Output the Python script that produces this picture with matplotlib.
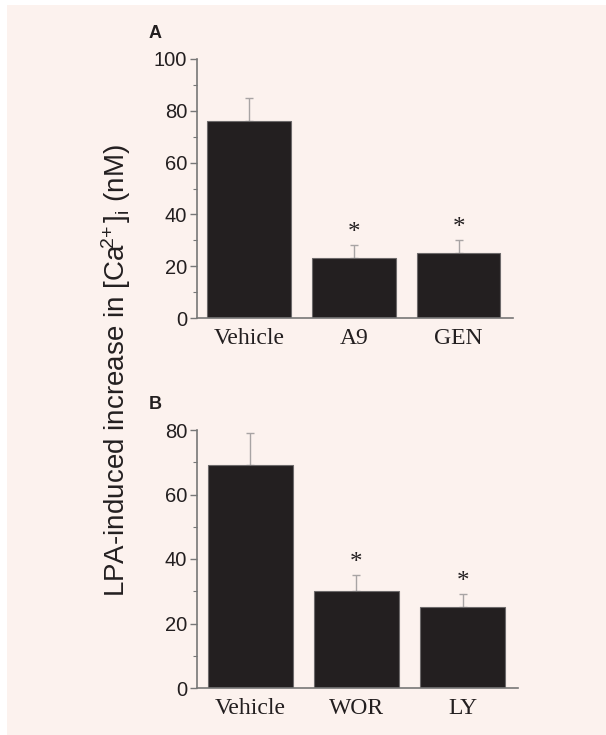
import numpy as np
import matplotlib
matplotlib.use("Agg")
from matplotlib import pyplot as plt
from matplotlib.ticker import MultipleLocator

plt.rcParams["mathtext.fontset"] = "custom"
plt.rcParams["mathtext.rm"] = "Liberation Sans"
plt.rcParams["mathtext.it"] = "Liberation Sans"
plt.rcParams["mathtext.sf"] = "Liberation Sans"
plt.rcParams["mathtext.default"] = "regular"

# panel A
cats_a = ["Vehicle", "A9", "GEN"]
vals_a = [76, 23, 25]
errs_a = [9, 5, 5]
sig_a = [False, True, True]

# panel B
cats_b = ["Vehicle", "WOR", "LY"]
vals_b = [69, 30, 25]
errs_b = [10, 5, 4]
sig_b = [False, True, True]

bg = "#fcf2ee"
bar_col = "#231f20"
W, H = 606, 735

fig = plt.figure(figsize=(W / 100, H / 100), dpi=100, facecolor="white")
# pink panel behind everything
fig.patches.append(plt.Rectangle((7 / W, 0), 1, 1 - 5 / H, transform=fig.transFigure,
                                 facecolor=bg, edgecolor="none", zorder=-10))


def px_axes(l, r, t, b):
    return fig.add_axes([l / W, 1 - b / H, (r - l) / W, (b - t) / H])


def panel(ax, cats, vals, errs, sig, ymax, minor):
    x = np.arange(len(cats))
    ax.set_facecolor("none")
    ax.bar(x, vals, width=0.8, color=bar_col, edgecolor="#6d6a6b", linewidth=0.8, zorder=2)
    ax.errorbar(x, vals, yerr=[np.zeros(len(errs)), errs], fmt="none", ecolor="#a8a4a4",
                elinewidth=1, capsize=3, capthick=1, zorder=1)
    for xi, v, e, s in zip(x, vals, errs, sig):
        if s:
            ax.annotate("*", (xi, v + e), xytext=(0, 1), textcoords="offset points",
                        ha="center", va="bottom", fontsize=18, family="Liberation Serif",
                        color=bar_col)
    ax.set_xlim(-0.5, 2.52)
    ax.set_ylim(0, ymax)
    ax.yaxis.set_major_locator(MultipleLocator(20))
    ax.yaxis.set_minor_locator(MultipleLocator(minor))
    ax.set_xticks(x)
    ax.set_xticklabels(cats, family="Liberation Serif", fontsize=17, color=bar_col)
    ax.tick_params(axis="x", length=0, pad=7)
    ax.tick_params(axis="y", which="major", length=5, width=1, color="#777777",
                   labelsize=14.5, labelcolor=bar_col, pad=2)
    ax.tick_params(axis="y", which="minor", length=3, width=0.8, color="#777777")
    for lab in ax.get_yticklabels():
        lab.set_family("Liberation Sans")
    for sp in ["top", "right"]:
        ax.spines[sp].set_visible(False)
    for sp in ["left", "bottom"]:
        ax.spines[sp].set_color("#777777")
        ax.spines[sp].set_linewidth(1.2)


ax_a = px_axes(197, 513, 59, 318)
panel(ax_a, cats_a, vals_a, errs_a, sig_a, 100, 10)
ax_b = px_axes(197, 518, 430, 688)
panel(ax_b, cats_b, vals_b, errs_b, sig_b, 80, 10)

fig.text(155 / W, 1 - 33 / H, "A", ha="center", va="center", fontsize=13,
         fontweight="bold", family="Liberation Sans", color=bar_col)
fig.text(155 / W, 1 - 405 / H, "B", ha="center", va="center", fontsize=13,
         fontweight="bold", family="Liberation Sans", color=bar_col)

fig.text(116 / W, 1 - 371 / H,
         r"LPA-induced increase in [$\mathregular{Ca\!^{2\!+}}$]$\mathregular{_i}$ (nM)",
         rotation=90, ha="center", va="center", fontsize=20,
         family="Liberation Sans", color=bar_col)

fig.savefig("out.png", dpi=100, facecolor="white")
